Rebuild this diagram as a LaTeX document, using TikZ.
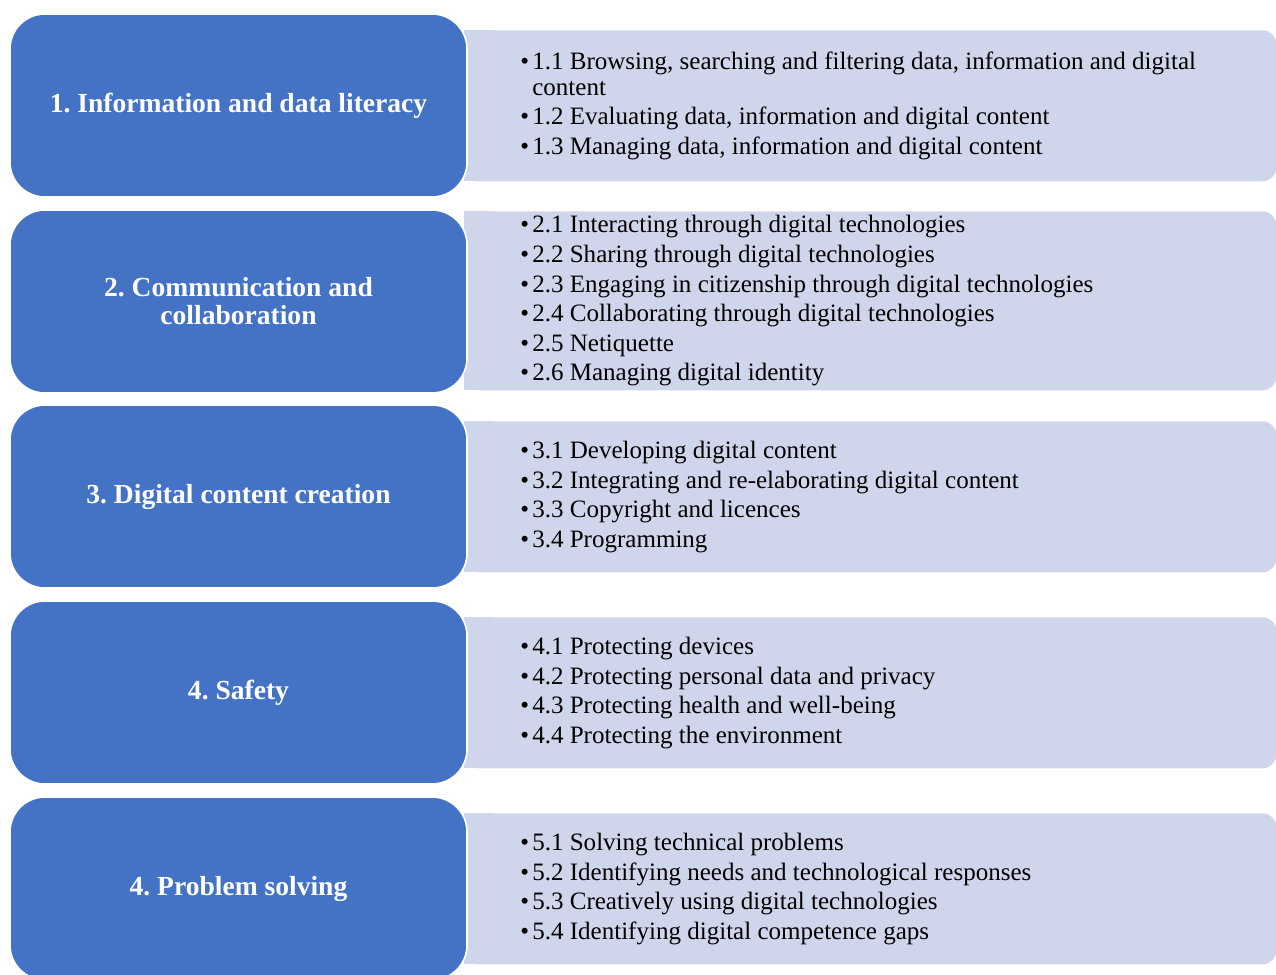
\documentclass[tikz,border=0pt]{standalone}
\usepackage{fontspec}
\setmainfont{Liberation Serif}
\definecolor{boxblue}{HTML}{4472C4}
\definecolor{panelblue}{HTML}{CFD5EA}
\newcommand{\bul}{\makebox[0.3cm][l]{\textbullet}}
\newcommand{\hang}{\hspace*{0.3cm}}
\frenchspacing
\begin{document}
\begin{tikzpicture}[x=0.025cm, y=-0.025cm,
    blue/.style={draw=white, line width=1.2pt, fill=boxblue, rounded corners=0.875cm,
        minimum width=11.425cm, minimum height=4.575cm, text=white, align=center,
        font=\fontsize{19.6}{20}\selectfont\bfseries},
    panel/.style={fill=panelblue, rounded corners=0.35cm, anchor=north west, inner sep=0pt,
        minimum width=20.3cm},
    items/.style={anchor=west, inner sep=0pt, align=left, font=\fontsize{17.8}{21}\selectfont}]
        \useasboundingbox (0,0) rectangle (1276,974);

        % light panels behind the blue boxes
        \node(p1) at (464,30) [panel, minimum height=3.775cm]{};
        \node(p2) at (464,211) [panel, minimum height=4.475cm]{};
        \node(p3) at (464,421) [panel, minimum height=3.775cm]{};
        \node(p4) at (464,617) [panel, minimum height=3.775cm]{};
        \node(p5) at (464,813) [panel, minimum height=3.775cm]{};
        \fill[panelblue] (p1.north west) rectangle ++(30,151);
        \fill[panelblue] (p2.north west) rectangle ++(30,179);
        \fill[panelblue] (p3.north west) rectangle ++(30,151);
        \fill[panelblue] (p4.north west) rectangle ++(30,151);
        \fill[panelblue] (p5.north west) rectangle ++(30,151);

        \node(t1) at (p1.west -| 520,0) [items]{\bul 1.1 Browsing, searching and filtering data, information and digital\\[-3pt]
            \hang content\\
            \bul 1.2 Evaluating data, information and digital content\\
            \bul 1.3 Managing data, information and digital content};
        \node(t2) at (p2.west -| 520,0) [items]{\bul 2.1 Interacting through digital technologies\\
            \bul 2.2 Sharing through digital technologies\\
            \bul 2.3 Engaging in citizenship through digital technologies\\
            \bul 2.4 Collaborating through digital technologies\\
            \bul 2.5 Netiquette\\
            \bul 2.6 Managing digital identity};
        \node(t3) at (p3.west -| 520,0) [items]{\bul 3.1 Developing digital content\\
            \bul 3.2 Integrating and re-elaborating digital content\\
            \bul 3.3 Copyright and licences\\
            \bul 3.4 Programming};
        \node(t4) at (p4.west -| 520,0) [items]{\bul 4.1 Protecting devices\\
            \bul 4.2 Protecting personal data and privacy\\
            \bul 4.3 Protecting health and well-being\\
            \bul 4.4 Protecting the environment};
        \node(t5) at (p5.west -| 520,0) [items]{\bul 5.1 Solving technical problems\\
            \bul 5.2 Identifying needs and technological responses\\
            \bul 5.3 Creatively using digital technologies\\
            \bul 5.4 Identifying digital competence gaps};

        % competence areas
        \node(b1) at (238.5,105.5) [blue]{1. Information and data literacy};
        \node(b2) at (238.5,301.5) [blue]{2. Communication and\\collaboration};
        \node(b3) at (238.5,496.5) [blue]{3. Digital content creation};
        \node(b4) at (238.5,692.5) [blue]{4. Safety};
        \node(b5) at (238.5,888.5) [blue]{4. Problem solving};
    \end{tikzpicture}
\end{document}
